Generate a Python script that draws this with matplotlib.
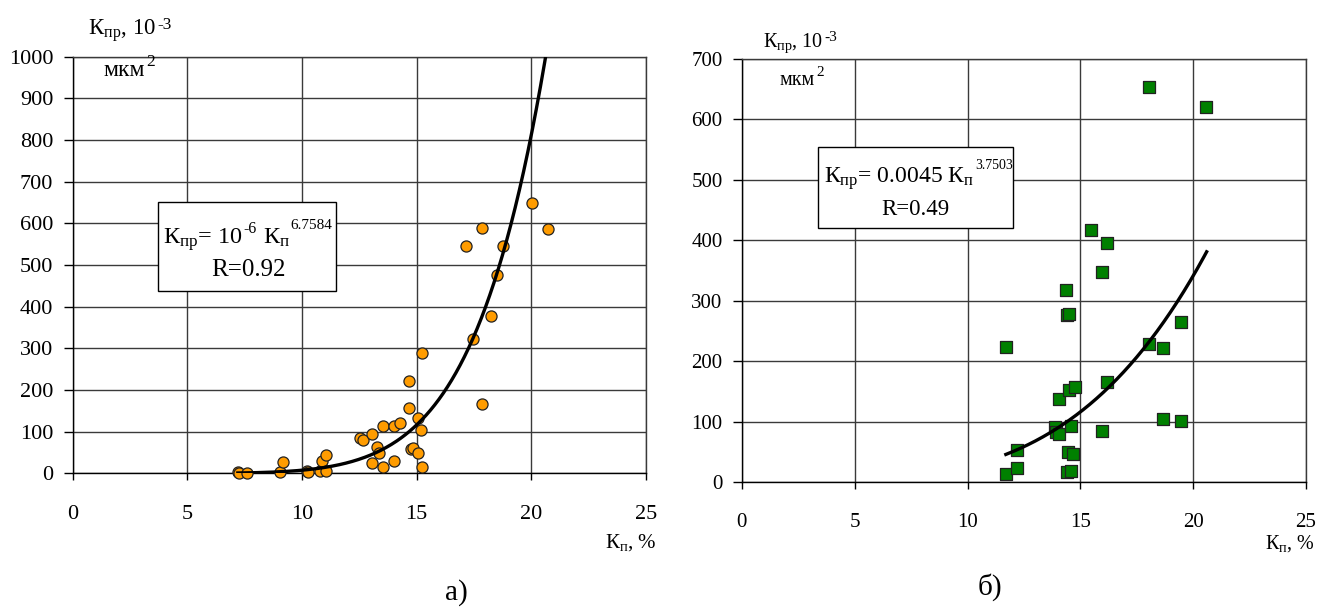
import matplotlib
matplotlib.use("Agg")
import matplotlib.pyplot as plt
import numpy as np
from matplotlib.patches import Rectangle

plt.rcParams['font.family'] = ['Liberation Serif', 'DejaVu Serif']
plt.rcParams['mathtext.fontset'] = 'custom'
plt.rcParams['mathtext.rm'] = 'Liberation Serif'
plt.rcParams['mathtext.it'] = 'Liberation Serif:italic'
plt.rcParams['mathtext.bf'] = 'Liberation Serif:bold'

# ---------- data: panel a) ----------
a_x = [7.19, 7.25, 7.59, 9.04, 9.16, 10.2, 10.25, 10.79, 10.86, 11.03, 11.03,
       12.53, 12.67, 13.07, 13.07, 13.26, 13.36, 13.52, 13.52, 14.03, 14.03,
       14.27, 14.65, 14.65, 14.74, 14.85, 15.06, 15.06, 15.18, 15.23, 15.23,
       17.44, 17.84, 18.26, 20.04, 20.74, 17.85, 17.17, 18.75, 18.52]
a_y = [2, 1.5, 1.4, 4, 26, 5.5, 3, 6, 29.5, 43, 6,
       84, 79, 95, 25.5, 63, 48, 114, 14, 113.5, 29.5,
       122, 221, 157.5, 58, 60, 133.5, 48, 104, 289, 14,
       321.5, 167, 377.5, 648, 586, 589.5, 545.5, 546, 476.7]
a_coef, a_exp = 1.31e-6, 6.7584
a_fit_range = (7.2, 21.0)

# ---------- data: panel b) ----------
b_x = [11.69, 11.69, 12.19, 12.19, 13.87, 13.92, 14.04, 14.04, 14.38, 14.42,
       14.49, 14.42, 14.57, 14.47, 14.67, 14.57, 14.49, 14.78, 15.46, 15.96,
       15.96, 16.18, 16.19, 18.04, 18.05, 18.65, 18.65, 19.45, 19.45, 20.57]
b_y = [223, 13, 53, 24, 91, 83, 79, 137, 318, 276,
       278, 17, 19, 50, 47, 93, 152, 157, 416, 347,
       84, 395, 166, 653, 229, 221, 105, 265, 101, 620]
b_coef, b_exp = 0.0045, 3.7503
b_fit_range = (11.7, 20.6)

x_ticks = [0, 5, 10, 15, 20, 25]
a_y_ticks = list(range(0, 1001, 100))
b_y_ticks = list(range(0, 701, 100))

W, H = 1332, 608
fig = plt.figure(figsize=(W / 100, H / 100), dpi=100)
renderer = fig.canvas.get_renderer()

def fx(px):
    return px / W

def fy(py):
    return 1 - py / H

def put(px, py, s, size, ha='left', z=6):
    return fig.text(fx(px), fy(py), s, fontsize=size, ha=ha, va='baseline',
                    zorder=z)

def chain(px, py, runs):
    """runs: (text, size, raise_px, gap_px) placed one after another."""
    x = px
    for s, size, rise, gap in runs:
        t = put(x + gap, py - rise, s, size)
        x = t.get_window_extent(renderer).x1

ax1 = fig.add_axes([0.0546, 0.2215, 0.4304, 0.6852])
ax2 = fig.add_axes([0.557, 0.2072, 0.4234, 0.6962])

grid_col = '#3a3a3a'

def style(ax, yticks, ymax, xpad, lsize):
    ax.set_xlim(0, 25)
    ax.set_ylim(0, ymax)
    ax.set_xticks(x_ticks)
    ax.set_yticks(yticks)
    ax.grid(True, color=grid_col, linewidth=1.0)
    ax.set_axisbelow(True)
    for s in ['top', 'right']:
        ax.spines[s].set_color(grid_col)
        ax.spines[s].set_linewidth(1.0)
    for s in ['left', 'bottom']:
        ax.spines[s].set_color('black')
        ax.spines[s].set_linewidth(1.0)
    ax.tick_params(axis='y', direction='out', length=6.5, width=1.0, pad=7.5,
                   labelsize=lsize, colors='black')
    ax.tick_params(axis='x', direction='out', length=5, width=1.0, pad=xpad,
                   labelsize=lsize, colors='black')

style(ax1, a_y_ticks, 1000, 18, 16)
style(ax2, b_y_ticks, 700, 17.5, 15)

# panel a scatter + fit
ax1.scatter(a_x, a_y, s=64, c='#FF9C00', edgecolors='#222222', linewidths=0.9,
            zorder=3, clip_on=False)
xa = np.linspace(a_fit_range[0], a_fit_range[1], 300)
ax1.plot(xa, a_coef * xa ** a_exp, color='black', linewidth=2.4, zorder=4)

# panel b scatter + fit
ax2.scatter(b_x, b_y, s=66, marker='s', c='#008000', edgecolors='#222222',
            linewidths=0.9, zorder=3, clip_on=False)
xb = np.linspace(b_fit_range[0], b_fit_range[1], 300)
ax2.plot(xb, b_coef * xb ** b_exp, color='black', linewidth=2.4, zorder=4)

# y-axis titles
chain(88.3, 35, [(r'К$_{\mathrm{пр}}$, 10', 16.5, 0, 0), ('-3', 12.5, 6, 1)])
chain(103.3, 76, [('мкм', 17, 0, 0), ('2', 12.5, 10, 1)])
chain(763.3, 46.7, [(r'К$_{\mathrm{пр}}$, 10', 14.5, 0, 0), ('-3', 11, 6, 1)])
chain(780, 85, [('мкм', 14.5, 0, 0), ('2', 11, 9, 1)])

# x-axis titles
put(657, 548, r'К$_{\mathrm{п}}$, %', 15, ha='right')
put(1315, 549, r'К$_{\mathrm{п}}$, %', 14.5, ha='right')

# equation boxes
fig.patches.append(Rectangle((fx(158.3), fy(290.7)), (335.7 - 158.3) / W,
                             (290.7 - 202.3) / H, transform=fig.transFigure,
                             facecolor='white', edgecolor='black',
                             linewidth=1.0, zorder=5))
chain(163.3, 243.3, [(r'К$_{\mathrm{пр}}$= 10', 17.5, 0, 0),
                     ('-6', 11.5, 10, 0.5),
                     (r'К$_{\mathrm{п}}$', 17.5, 0, 6),
                     ('6.7584', 11, 14, 0.5)])
put(248.3, 276, 'R=0.92', 18, ha='center')

fig.patches.append(Rectangle((fx(818.3), fy(227.7)), (1012.7 - 818.3) / W,
                             (227.7 - 147) / H, transform=fig.transFigure,
                             facecolor='white', edgecolor='black',
                             linewidth=1.0, zorder=5))
chain(824, 182.7, [(r'К$_{\mathrm{пр}}$= 0.0045 К$_{\mathrm{п}}$', 17, 0, 0),
                   ('3.7503', 10, 13.5, 1)])
put(915, 215, 'R=0.49', 16.5, ha='center')

# captions
fig.text(fx(456), fy(593), 'а)', fontsize=21, ha='center', va='center')
fig.text(fx(990), fy(587), 'б)', fontsize=21, ha='center', va='center')

fig.savefig('out.png', dpi=100)
